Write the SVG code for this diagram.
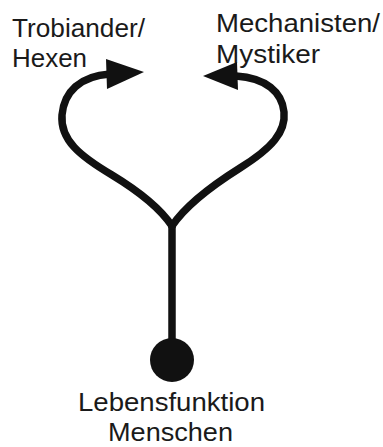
<svg xmlns="http://www.w3.org/2000/svg" width="383" height="447" viewBox="0 0 383 447">
<style>
.lbl{font-family:"Liberation Sans",Arial,sans-serif;font-size:26px;fill:#1a1a1a}
.ln{fill:none;stroke:#111;stroke-width:7.5;stroke-linecap:round;stroke-linejoin:round}
.hd{fill:#111}
</style>
<rect width="383" height="447" fill="#fff"/>
<g id="connectors">
<path class="ln" d="M172,350 L172,226"/>
<path class="ln" d="M172,226 C160,208 140,192 112,175 C80,156 60,140 62,115 C64,92 80,76 110,74"/>
<path class="ln" d="M172,226 C184,208 205,190 240,168 C272,148 286,132 284,112 C282,92 266,78 236,76"/>
<polygon class="hd" points="106,59 144,72 107,89"/>
<polygon class="hd" points="237,62 203,76 238,90"/>
</g>
<g id="n-left"><text class="lbl" x="12" y="37" textLength="133" lengthAdjust="spacingAndGlyphs">Trobiander/</text><text class="lbl" x="12" y="67" textLength="75" lengthAdjust="spacingAndGlyphs">Hexen</text></g>
<g id="n-right"><text class="lbl" x="216" y="32" textLength="164" lengthAdjust="spacingAndGlyphs">Mechanisten/</text><text class="lbl" x="216" y="63" textLength="104" lengthAdjust="spacingAndGlyphs">Mystiker</text></g>
<g id="n-root"><circle cx="172" cy="360" r="22" fill="#111"/><text class="lbl" x="78" y="411" textLength="187" lengthAdjust="spacingAndGlyphs">Lebensfunktion</text><text class="lbl" x="108" y="441" textLength="125" lengthAdjust="spacingAndGlyphs">Menschen</text></g>
</svg>
